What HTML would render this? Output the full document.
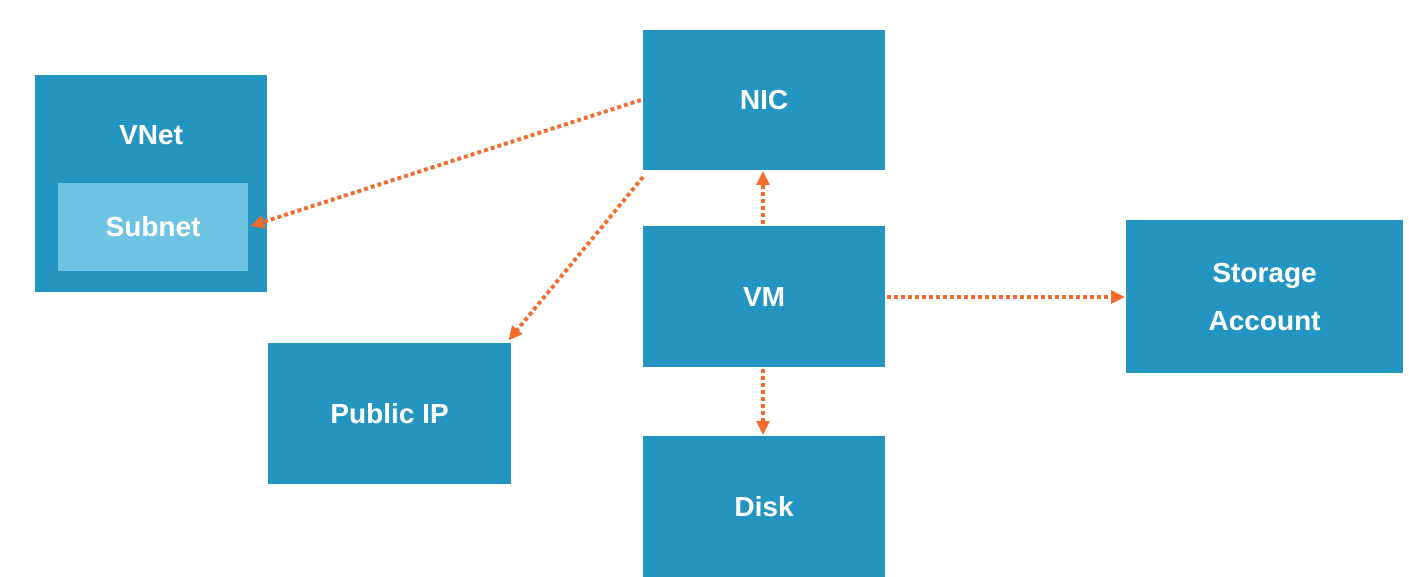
<!DOCTYPE html>
<html><head><style>
body{margin:0;width:1409px;height:577px;background:#fff;overflow:hidden;position:relative;font-family:"Liberation Sans",sans-serif}
.b{position:absolute;background:#2395c0;color:#fff;font-size:28px;font-weight:bold;display:flex;align-items:center;justify-content:center;text-align:center;line-height:48px}
svg{position:absolute;left:0;top:0}
</style></head><body>
<div class="b" style="left:35px;top:75px;width:232px;height:217px;align-items:flex-start"><div style="margin-top:36px">VNet</div></div>
<div class="b" style="left:58px;top:183px;width:190px;height:88px;background:#6fc3e2">Subnet</div>
<div class="b" style="left:643px;top:30px;width:242px;height:140px">NIC</div>
<div class="b" style="left:643px;top:226px;width:242px;height:141px">VM</div>
<div class="b" style="left:268px;top:343px;width:243px;height:141px">Public IP</div>
<div class="b" style="left:1126px;top:220px;width:277px;height:153px">Storage<br>Account</div>
<div class="b" style="left:643px;top:436px;width:242px;height:141px">Disk</div>
<svg width="1409" height="577">
<defs><marker id="a" markerWidth="3.5" markerHeight="3.5" refX="1.75" refY="1.75" orient="auto" markerUnits="strokeWidth"><path d="M0,0L3.5,1.75L0,3.5z" fill="#f26b2c"/></marker></defs>
<g stroke="#f26b2c" stroke-width="4" stroke-dasharray="4 3" fill="none" marker-end="url(#a)">
<line x1="641" y1="100" x2="257" y2="224"/>
<line x1="643" y1="177" x2="513" y2="335"/>
<line x1="763" y1="224" x2="763" y2="178"/>
<line x1="763" y1="369" x2="763" y2="428"/>
<line x1="887" y1="297" x2="1118" y2="297"/>
</g></svg>
</body></html>
